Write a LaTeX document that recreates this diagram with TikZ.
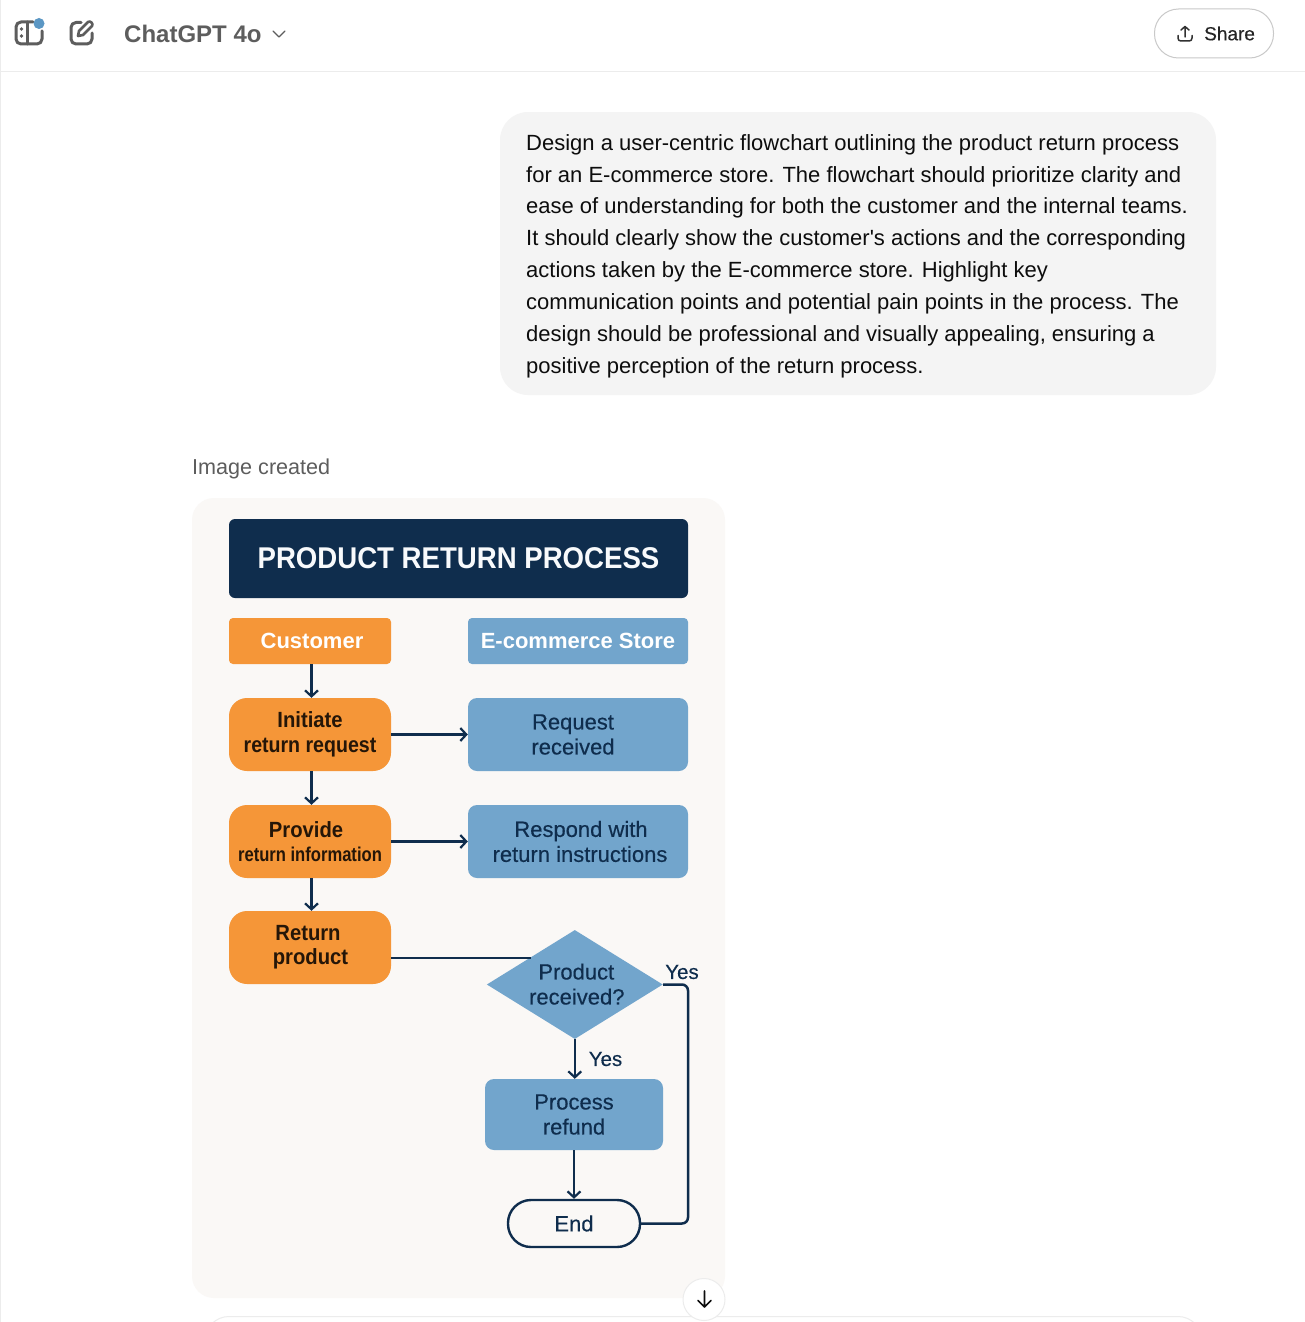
\documentclass[tikz,border=0pt]{standalone}
\usepackage{fontspec}
\setmainfont{Liberation Sans}
\newfontfamily\plainf{Liberation Sans}
\newfontfamily\medf[FakeBold=0.35]{Liberation Sans}
\newfontfamily\narf[FakeStretch=0.92]{Liberation Sans}
\newfontfamily\narg[FakeStretch=0.89]{Liberation Sans}
\newfontfamily\narrf[FakeStretch=0.83]{Liberation Sans}
\usetikzlibrary{arrows.meta,shapes.geometric}
\definecolor{navy}{HTML}{0F2D4D}
\definecolor{orng}{HTML}{F59638}
\definecolor{blu}{HTML}{72A5CC}
\definecolor{cardbg}{HTML}{FAF8F6}
\definecolor{bubble}{HTML}{F4F4F4}
\definecolor{ink}{HTML}{0D0D0D}
\definecolor{uigray}{HTML}{5D5D5D}
\definecolor{rule}{HTML}{ECECEC}
\definecolor{dot}{HTML}{5B97C4}
\newcommand{\fs}[1]{\fontsize{#1}{25}\selectfont}
\newcommand{\sh}[1]{\hspace*{#1pt}}
\tikzset{
 x=1pt,y=-1pt,
 box/.style={anchor=center,inner sep=0pt,align=center,font=\narf\bfseries\fs{22},text=navy},
 custbox/.style={box,fill=orng,rounded corners=18pt,text=black!85!orng},
 storebox/.style={box,fill=blu,rounded corners=9pt,font=\medf\fs{22},text=navy},
 flow/.style={draw=navy,line width=2.5pt,-{Straight Barb[length=6pt,width=13pt,line width=2.2pt]}},
 plainflow/.style={draw=navy,line width=2.5pt},
 lab/.style={inner sep=0pt,font=\medf\fs{20.5},text=navy},
 icon/.style={draw=uigray,line width=3pt,line cap=round,line join=round},
}
\begin{document}
\begin{tikzpicture}
\useasboundingbox (0,0) rectangle (1305,1322);
\fill[white] (0,0) rectangle (1305,1322);
\draw[rule,line width=1pt] (0,71.5) -- (1305,71.5);
\draw[rule,line width=1pt] (0.5,0) -- (0.5,1322);
% header
\draw[icon,rounded corners=5pt] (33,22) -- (16,22) -- (16,44) -- (42,44) -- (42,31);
\draw[icon] (27.5,22) -- (27.5,44);
\fill[uigray] (21.5,29) circle (1.8) (21.5,36) circle (1.8);
\fill[dot] (39,23.5) circle (5.5);
\draw[icon,rounded corners=5pt] (81,22.5) -- (71,22.5) -- (71,44) -- (92,44) -- (92,33);
\draw[icon,line width=2.6pt] (78,36) -- (79,31) -- (88,22) .. controls (90,20) and (94,24) .. (92,26) -- (83,35) -- cycle;
\node[anchor=west,inner sep=0pt,font=\bfseries\fs{24},text=uigray] (model) at (124,33.5) {ChatGPT 4o};
\draw[uigray,line width=1.4pt,line cap=round,line join=round] (273,31) -- (279,37) -- (285,31);
\node[draw=rule!85!black,line width=1pt,fill=white,rounded corners=24pt,minimum width=119pt,minimum height=49pt,inner sep=0pt,anchor=center] (sharebtn) at (1214,33.5) {};
\node[anchor=west,inner sep=0pt,font=\medf\fs{19},text=ink!90!white] (sharetxt) at (1204,33.5) {Share};
\draw[ink!85!white,line width=1.5pt,line cap=round,line join=round] (1185,37) -- (1185,27) (1181,30) -- (1185,26.5) -- (1189,30) (1178,35.5) -- (1178,38) .. controls (1178,40) and (1179,41) .. (1181,41) -- (1189,41) .. controls (1191,41) and (1192,40) .. (1192,38) -- (1192,35.5);
% message bubble
\fill[bubble,rounded corners=28pt] (500,112) rectangle (1216,395);
\node[anchor=north west,inner sep=0pt,align=left,font=\plainf\fontsize{22}{31.86}\selectfont,text=ink] (msg) at (526,134) {Design a user-centric flowchart outlining the product return process\\for an E-commerce store. The flowchart should prioritize clarity and\\ease of understanding for both the customer and the internal teams.\\It should clearly show the customer's actions and the corresponding\\actions taken by the E-commerce store. Highlight key\\communication points and potential pain points in the process. The\\design should be professional and visually appealing, ensuring a\\positive perception of the return process.};
\node[anchor=west,inner sep=0pt,font=\fs{21.6},text=uigray] (created) at (192,469) {Image created};
% card
\fill[cardbg,rounded corners=22pt] (192,498) rectangle (725,1298);
\node[box,fill=navy,rounded corners=6pt,minimum width=459pt,minimum height=79pt,font=\narf\bfseries\fs{30},text=white!95!blu] (title) at (458.5,558.5) {\raisebox{-1pt}{PRODUCT RETURN PROCESS}};
\node[box,fill=orng,rounded corners=4pt,minimum width=162pt,minimum height=46pt,text=white,font=\bfseries\fs{22}] (cust) at (310,641) {\sh{4}\raisebox{-1pt}{Customer}};
\node[box,fill=blu,rounded corners=4pt,minimum width=220pt,minimum height=46pt,text=white,font=\bfseries\fs{22}] (store) at (578,641) {\raisebox{-1pt}{E-commerce Store}};
\node[custbox,minimum width=162pt,minimum height=73pt] (init) at (310,734.5) {\raisebox{-1.5pt}{Initiate}\\\raisebox{-1.5pt}{\narg\bfseries\fs{22}return request}};
\node[custbox,minimum width=162pt,minimum height=73pt] (prov) at (310,841.5) {\sh{-8}Provide\\[-1.5pt]{\narrf\bfseries\fs{20}return information}};
\node[custbox,minimum width=162pt,minimum height=73pt] (ret) at (310,947.5) {\sh{-4}\raisebox{-1pt}{Return}\\\sh{1}product};
\node[storebox,minimum width=220pt,minimum height=73pt] (req) at (578,734.5) {\sh{-10}Request\\\sh{-10}received};
\node[storebox,minimum width=220pt,minimum height=73pt] (resp) at (578,841.5) {\sh{6}Respond with\\\sh{4}return instructions};
\node[diamond,aspect=1.6,fill=blu,inner sep=0pt,minimum width=176pt,minimum height=109pt,align=center,font=\medf\fs{22},text=navy] (dia) at (574.8,984.5) {\sh{3}\raisebox{1pt}{Product}\\\sh{4}\raisebox{1pt}{received?}};
\node[storebox,minimum width=178pt,minimum height=71pt] (ref) at (574,1114.5) {Process\\refund};
\node[draw=navy,line width=2.4pt,fill=cardbg,rounded corners=23pt,minimum width=132pt,minimum height=47pt,inner sep=0pt,font=\medf\fs{22},text=navy] (endn) at (574,1223.5) {End};
\coordinate (rail) at (688,984.5);
\coordinate (vx) at (311.5,0);
\coordinate (lineend) at ([yshift=-0.6pt]dia.north west);
% connectors
\draw[flow] (cust.south -| vx) -- (init.north -| vx);
\draw[flow] (init.south -| vx) -- (prov.north -| vx);
\draw[flow] (prov.south -| vx) -- (ret.north -| vx);
\draw[flow] (init.east) -- (req.west);
\draw[flow] (prov.east) -- (resp.west);
\draw[plainflow] (ret.east |- lineend) -- (lineend);
\draw[flow] (dia.south) -- (ref.north -| dia.south);
\draw[flow] (ref.south -| endn.north) -- (endn.north);
\draw[plainflow,rounded corners=6pt] (dia.east) -- (rail) -- (rail |- endn.east) -- (endn.east);
\node[lab] (yes1) at (682,972) {Yes};
\node[lab] (yes2) at (605.5,1059) {Yes};
% bottom
\draw[rule,line width=1pt,rounded corners=24pt] (205,1340) -- (205,1316.5) -- (1202,1316.5) -- (1202,1340);
\node[circle,draw=rule,line width=1pt,fill=white,minimum size=42pt,inner sep=0pt] (scroll) at (704,1299.5) {};
\draw[ink,line width=1.7pt,line cap=round,line join=round] (704.5,1291) -- (704.5,1307) (698,1300.5) -- (704.5,1307) -- (711,1300.5);
\end{tikzpicture}
\end{document}
